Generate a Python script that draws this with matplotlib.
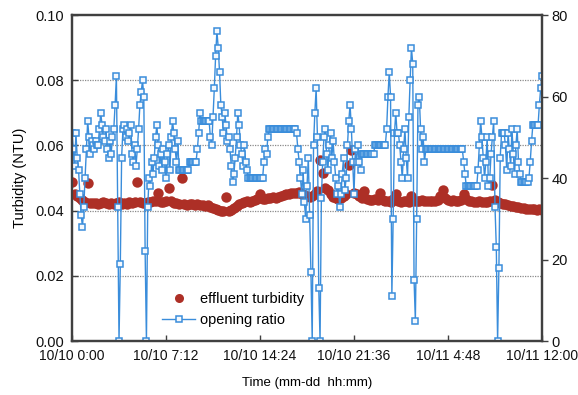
import numpy as np
import matplotlib
matplotlib.use("Agg")
import matplotlib.pyplot as plt
from matplotlib.lines import Line2D

plt.rcParams['font.family'] = ['Liberation Sans Narrow', 'Liberation Sans', 'DejaVu Sans']

# opening ratio (%), one reading every 0.1 h from 10/10 0:00, one row per hour
opening = [
    51, 47, 43, 51, 45, 42, 36, 31, 28, 33,
    40, 47, 54, 50, 46, 49, 48, 47, 49, 48,
    48, 52, 56, 53, 50, 49, 52, 47, 45, 49,
    46, 50, 52, 58, 65, 33, 0, 19, 45, 52,
    53, 50, 52, 49, 51, 53, 46, 44, 48, 43,
    47, 52, 58, 61, 64, 60, 22, 0, 33, 40,
    38, 44, 41, 45, 50, 53, 48, 43, 46, 42,
    47, 44, 40, 46, 48, 42, 50, 54, 51, 47,
    44, 49, 42, 42, 42, 42, 42, 42, 42, 42,
    44, 44, 44, 44, 44, 44, 47, 51, 56, 54,
    54, 54, 54, 54, 54, 54, 50, 48, 55, 62,
    70, 76, 72, 66, 58, 55, 51, 56, 53, 49,
    50, 47, 43, 39, 41, 45, 50, 56, 53, 48,
    46, 43, 48, 44, 42, 40, 40, 40, 40, 40,
    40, 40, 40, 40, 40, 40, 40, 44, 47, 46,
    50, 52, 52, 52, 52, 52, 52, 52, 52, 52,
    52, 52, 52, 52, 52, 52, 52, 52, 52, 52,
    52, 52, 51, 47, 44, 40, 36, 42, 34, 30,
    38, 45, 31, 17, 0, 48, 56, 62, 50, 13,
    0, 35, 44, 50, 52, 46, 42, 48, 51, 45,
    49, 44, 40, 36, 38, 33, 36, 41, 45, 37,
    40, 48, 54, 58, 52, 44, 36, 47, 44, 48,
    44, 42, 46, 46, 46, 46, 46, 46, 46, 46,
    46, 46, 48, 48, 48, 48, 48, 48, 48, 48,
    48, 52, 60, 66, 60, 11, 30, 51, 56, 51,
    51, 48, 44, 40, 47, 52, 45, 40, 55, 64,
    72, 68, 15, 5, 30, 58, 60, 52, 47, 50,
    44, 47, 47, 47, 47, 47, 47, 47, 47, 47,
    47, 47, 47, 47, 47, 47, 47, 47, 47, 47,
    47, 47, 47, 47, 47, 47, 47, 47, 47, 47,
    44, 41, 38, 38, 38, 38, 38, 38, 38, 38,
    38, 42, 48, 54, 50, 45, 40, 44, 50, 38,
    40, 46, 50, 54, 33, 23, 0, 18, 45, 51,
    51, 51, 48, 42, 51, 47, 43, 52, 46, 41,
    48, 52, 44, 41, 39, 39, 39, 39, 39, 39,
    40, 44, 49, 53, 53, 53, 53, 53, 58, 62,
    65,
]

# effluent turbidity (NTU), one reading every 0.2 h, one row per 2 hours
turbidity = [
    0.0488, 0.0450, 0.0446, 0.0440, 0.0432, 0.0426, 0.0485, 0.0424, 0.0422, 0.0423,
    0.0421, 0.0423, 0.0425, 0.0422, 0.0420, 0.0424, 0.0421, 0.0423, 0.0425, 0.0420,
    0.0424, 0.0421, 0.0426, 0.0423, 0.0425, 0.0488, 0.0427, 0.0424, 0.0422, 0.0425,
    0.0426, 0.0428, 0.0430, 0.0454, 0.0427, 0.0425, 0.0428, 0.0470, 0.0431, 0.0424,
    0.0422, 0.0420, 0.0500, 0.0421, 0.0418, 0.0419, 0.0421, 0.0417, 0.0419, 0.0416,
    0.0417, 0.0415, 0.0418, 0.0412, 0.0408, 0.0405, 0.0403, 0.0400, 0.0398, 0.0442,
    0.0400, 0.0403, 0.0408, 0.0415, 0.0420, 0.0424, 0.0426, 0.0428, 0.0426, 0.0430,
    0.0432, 0.0435, 0.0450, 0.0437, 0.0436, 0.0438, 0.0440, 0.0442, 0.0440, 0.0443,
    0.0445, 0.0447, 0.0450, 0.0452, 0.0455, 0.0453, 0.0455, 0.0457, 0.0452, 0.0448,
    0.0445, 0.0443, 0.0446, 0.0450, 0.0460, 0.0555, 0.0515, 0.0470, 0.0462, 0.0450,
    0.0442, 0.0438, 0.0436, 0.0440, 0.0445, 0.0450, 0.0540, 0.0586, 0.0455, 0.0450,
    0.0445, 0.0440, 0.0460, 0.0436, 0.0433, 0.0432, 0.0435, 0.0433, 0.0455, 0.0432,
    0.0430, 0.0428, 0.0427, 0.0435, 0.0450, 0.0430, 0.0427, 0.0428, 0.0430, 0.0426,
    0.0445, 0.0430, 0.0428, 0.0430, 0.0432, 0.0430, 0.0429, 0.0431, 0.0428, 0.0430,
    0.0432, 0.0445, 0.0463, 0.0440, 0.0432, 0.0430, 0.0433, 0.0431, 0.0430, 0.0432,
    0.0450, 0.0435, 0.0430, 0.0428, 0.0427, 0.0426, 0.0428, 0.0425, 0.0427, 0.0426,
    0.0430, 0.0479, 0.0432, 0.0425, 0.0423, 0.0421, 0.0420, 0.0418, 0.0415, 0.0413,
    0.0412, 0.0410, 0.0409, 0.0407, 0.0406, 0.0405, 0.0404, 0.0404, 0.0403, 0.0404,
    0.0403,
]

tick_hours = [0, 7.2, 14.4, 21.6, 28.8, 36]
tick_labels = ['10/10 0:00', '10/10 7:12', '10/10 14:24', '10/10 21:36', '10/11 4:48', '10/11 12:00']

t_open = np.arange(len(opening)) * 0.1
t_turb = np.arange(len(turbidity)) * 0.2

red = '#ad2f26'
blue = '#3a8ddb'
frame = '#404040'

fig = plt.figure(figsize=(5.78, 3.95), dpi=100)
ax = fig.add_axes([0.1246, 0.1367, 0.8131, 0.8253])
ax2 = ax.twinx()

ax.plot(t_turb, turbidity, 'o', color=red, markersize=7.5, markeredgewidth=0, zorder=3)
ax2.plot(t_open, opening, '-s', color=blue, linewidth=1.0, markersize=4.6,
         markerfacecolor='#f4f8fd', markeredgecolor=blue, markeredgewidth=1.1)

ax.set_xlim(0, 36)
ax.set_ylim(0, 0.10)
ax2.set_ylim(0, 80)
ax.set_yticks([0, 0.02, 0.04, 0.06, 0.08, 0.10])
ax.set_yticklabels(['0.00', '0.02', '0.04', '0.06', '0.08', '0.10'])
ax2.set_yticks([0, 20, 40, 60, 80])
ax.set_xticks(tick_hours)
ax.set_xticklabels(tick_labels)

for y in [0.02, 0.04, 0.06, 0.08]:
    ax.axhline(y, color='#8a8a8a', linestyle=(0, (1, 1)), linewidth=0.9, zorder=1)

for a in (ax, ax2):
    for s in a.spines.values():
        s.set_color(frame)
        s.set_linewidth(1.6)
ax.tick_params(axis='x', direction='in', length=4, width=1, colors=frame, labelcolor='#111111',
               labelsize=10, pad=6)
ax.tick_params(axis='y', direction='in', length=4, width=1, colors=frame, labelcolor='#111111',
               labelsize=10.5, pad=6)
ax2.tick_params(axis='y', direction='out', length=4, width=1, colors=frame, labelcolor='#111111',
                labelsize=10.5, pad=3)

ax.set_ylabel('Turbidity (NTU)', fontsize=10.5, labelpad=6)
ax.set_xlabel('Time (mm-dd  hh:mm)', fontsize=9.5, labelpad=10)

handles = [
    Line2D([], [], linestyle='none', marker='o', color=red, markersize=6.5, markeredgewidth=0),
    Line2D([], [], color=blue, linewidth=1.0, marker='s', markersize=4.6,
           markerfacecolor='#f4f8fd', markeredgecolor=blue, markeredgewidth=1.1),
]
ax2.legend(handles, ['effluent turbidity', 'opening ratio'], loc='upper left',
           bbox_to_anchor=(0.27, 0.275), bbox_transform=fig.transFigure,
           frameon=False, fontsize=10.5, handlelength=2.3, handletextpad=0.3,
           labelspacing=0.45, borderaxespad=0)

fig.savefig('out.png', dpi=100)
